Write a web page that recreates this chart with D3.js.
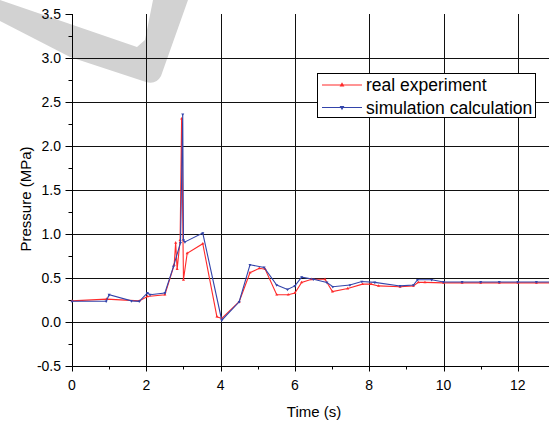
<!DOCTYPE html>
<html>
<head>
<meta charset="utf-8">
<script src="https://cdn.jsdelivr.net/npm/d3@7/dist/d3.min.js"></script>
<style>
  body { margin: 0; background: #fff; }
  svg { display: block; font-family: "Liberation Sans", Arial, sans-serif; }
</style>
</head>
<body>
<script>
const width = 549;
const height = 423;

// real experiment (time in s, pressure in MPa)
var realTime = [0, 0.93, 1.81, 2.03, 2.5, 2.75, 2.79, 2.83, 2.91, 2.95, 3.0, 3.1, 3.52,
  3.9, 4.03, 4.5, 4.79, 5.04, 5.2, 5.51, 5.82, 6.0, 6.18, 6.45, 6.81, 7.01, 7.42,
  7.82, 8.05, 8.25, 8.83, 9.19, 9.32, 9.5, 10, 10.5, 11, 11.5, 12, 12.5, 13];
var realPressure = [0.24, 0.26, 0.24, 0.29, 0.31, 0.65, 0.9, 0.6, 0.93, 2.31, 0.48, 0.78, 0.89,
  0.06, 0.04, 0.23, 0.56, 0.61, 0.6, 0.31, 0.31, 0.33, 0.45, 0.485, 0.485, 0.345, 0.38,
  0.43, 0.43, 0.41, 0.4, 0.41, 0.45, 0.45, 0.445, 0.445, 0.445, 0.445, 0.445, 0.445, 0.445];

// simulation calculation
var simTime = [0, 0.92, 1.0, 1.6, 1.81, 2.03, 2.1, 2.5, 2.73, 2.92, 2.98, 3.0, 3.04, 3.52,
  4.03, 4.5, 4.79, 5.17, 5.51, 5.8, 6.0, 6.18, 6.5, 6.86, 7.02, 7.48, 7.8, 8.15, 8.83,
  9.19, 9.3, 9.68, 10, 10.5, 11, 11.5, 12, 12.5, 13];
var simPressure = [0.235, 0.235, 0.31, 0.24, 0.235, 0.33, 0.31, 0.33, 0.63, 0.9, 2.36, 0.93, 0.91, 1.01,
  0.02, 0.23, 0.65, 0.62, 0.42, 0.37, 0.41, 0.51, 0.485, 0.45, 0.4, 0.42, 0.46, 0.45, 0.41,
  0.42, 0.48, 0.48, 0.455, 0.455, 0.455, 0.455, 0.455, 0.455, 0.455];

var xMajor = [0, 2, 4, 6, 8, 10, 12];
var xMinor = [1, 3, 5, 7, 9, 11, 13];
var yMajor = [-0.5, 0, 0.5, 1.0, 1.5, 2.0, 2.5, 3.0, 3.5];
var yMinor = [-0.25, 0.25, 0.75, 1.25, 1.75, 2.25, 2.75, 3.25];

var seriesNames = ["real experiment", "simulation calculation"];
var seriesColors = ["#ff2a2a", "#3344aa"];

var svg = d3.select("body")
  .append("svg")
  .attr("width", width)
  .attr("height", height);

var x = d3.scaleLinear().domain([0, 13]).range([72, 555]);
var y = d3.scaleLinear().domain([-0.5, 3.5]).range([366, 14]);

// faint check-mark watermark behind the chart
svg.append("path")
  .attr("d", "M0,0 L70,24 L137,47 L145,40 L153,0 L188,0 L161,76 Q156,85 146,82 L70,57 L0,21 Z")
  .attr("fill", "#d2d2d2");

var px = v => Math.round(x(v)) + 0.5;
var py = v => Math.round(y(v)) + 0.5;

// grid lines
svg.selectAll(".vgrid")
  .data(xMajor.filter(d => d > 0))
  .enter().append("line")
  .attr("x1", px).attr("x2", px)
  .attr("y1", y(3.5)).attr("y2", y(-0.5))
  .attr("stroke", "#111").attr("stroke-width", 1);

svg.selectAll(".hgrid")
  .data(yMajor.filter(d => d > -0.5 && d < 3.5))
  .enter().append("line")
  .attr("y1", py).attr("y2", py)
  .attr("x1", x(0)).attr("x2", width)
  .attr("stroke", "#111").attr("stroke-width", 1);

// axes
var axisG = svg.append("g").attr("stroke", "#000").attr("stroke-width", 1);
axisG.append("line")
  .attr("x1", px(0)).attr("x2", px(0))
  .attr("y1", y(3.5)).attr("y2", py(-0.5));
axisG.append("line")
  .attr("x1", px(0)).attr("x2", width)
  .attr("y1", py(-0.5)).attr("y2", py(-0.5));

axisG.selectAll(".ymaj").data(yMajor).enter().append("line")
  .attr("x1", px(0) - 7).attr("x2", px(0))
  .attr("y1", py).attr("y2", py);
axisG.selectAll(".ymin").data(yMinor).enter().append("line")
  .attr("x1", px(0) - 4).attr("x2", px(0))
  .attr("y1", py).attr("y2", py);
axisG.selectAll(".xmaj").data(xMajor).enter().append("line")
  .attr("x1", px).attr("x2", px)
  .attr("y1", py(-0.5)).attr("y2", py(-0.5) + 5);
axisG.selectAll(".xmin").data(xMinor).enter().append("line")
  .attr("x1", px).attr("x2", px)
  .attr("y1", py(-0.5)).attr("y2", py(-0.5) + 3);

// tick labels
svg.selectAll(".ylab").data(yMajor).enter().append("text")
  .attr("x", 61)
  .attr("y", d => y(d) + 5)
  .attr("text-anchor", "end")
  .attr("font-size", 14)
  .text(d => d3.format(".1f")(d).replace("−", "-"));

svg.selectAll(".xlab").data(xMajor).enter().append("text")
  .attr("x", d => x(d))
  .attr("y", 390)
  .attr("text-anchor", "middle")
  .attr("font-size", 14)
  .text(d => d);

// axis titles
svg.append("text")
  .attr("x", 314).attr("y", 417)
  .attr("text-anchor", "middle")
  .attr("font-size", 15)
  .text("Time (s)");

svg.append("text")
  .attr("transform", "translate(31,199) rotate(-90)")
  .attr("text-anchor", "middle")
  .attr("font-size", 15)
  .text("Pressure (MPa)");

// data lines
var line = d3.line().x(d => x(d[0])).y(d => y(d[1]));
var realData = d3.zip(realTime, realPressure);
var simData = d3.zip(simTime, simPressure);

var plot = svg.append("g");
[realData, simData].forEach(function(data, i) {
  plot.append("path")
    .datum(data)
    .attr("d", line)
    .attr("fill", "none")
    .attr("stroke", seriesColors[i])
    .attr("stroke-width", 1.1);

  plot.selectAll(".m" + i)
    .data(data)
    .enter().append("path")
    .attr("d", d3.symbol().type(d3.symbolTriangle).size(4))
    .attr("transform", d => "translate(" + x(d[0]) + "," + y(d[1]) + ")" + (i === 1 ? " rotate(180)" : ""))
    .attr("fill", seriesColors[i]);
});

// legend
var legend = svg.append("g");
legend.append("rect")
  .attr("x", 317.5).attr("y", 73.5)
  .attr("width", 218).attr("height", 44)
  .attr("fill", "#fff")
  .attr("stroke", "#000");

seriesNames.forEach(function(name, i) {
  var ly = 85 + i * 22.5;
  legend.append("line")
    .attr("x1", 322).attr("x2", 362)
    .attr("y1", ly).attr("y2", ly)
    .attr("stroke", seriesColors[i]).attr("stroke-width", 1.1);
  legend.append("path")
    .attr("d", d3.symbol().type(d3.symbolTriangle).size(10))
    .attr("transform", "translate(342," + ly + ")" + (i === 1 ? " rotate(180)" : ""))
    .attr("fill", seriesColors[i]);
  legend.append("text")
    .attr("x", 366).attr("y", ly + 6)
    .attr("font-size", 17.5)
    .text(name);
});
</script>
</body>
</html>
